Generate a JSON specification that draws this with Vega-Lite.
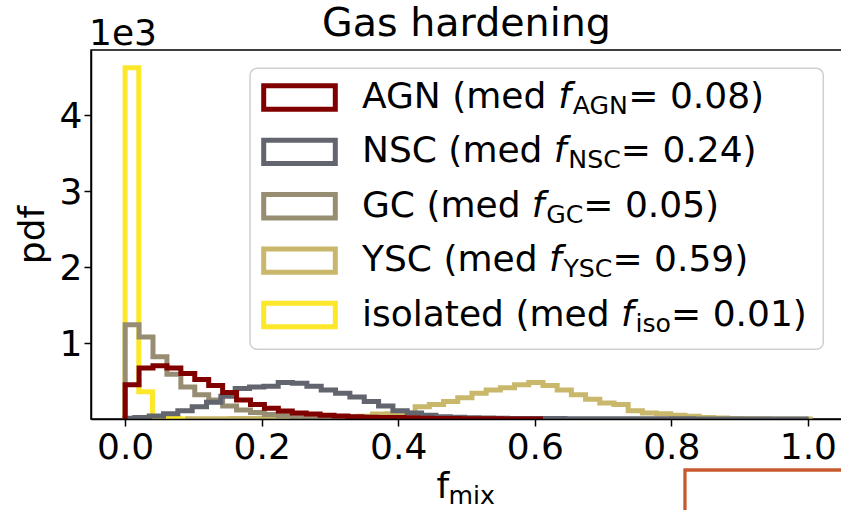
{
  "$schema": "https://vega.github.io/schema/vega-lite/v6.json",
  "width": 751,
  "height": 369,
  "autosize": {"type": "none"},
  "padding": {"left": 91, "top": 50, "right": 0, "bottom": 91},
  "background": "#ffffff",
  "config": {
    "font": "DejaVu Sans",
    "view": {"stroke": "#000000", "strokeWidth": 1.5},
    "axis": {"grid": false, "domainColor": "#000000", "domainWidth": 1.5, "tickColor": "#000000", "tickWidth": 1.5, "tickSize": 7, "labelFont": "DejaVu Sans", "labelFontSize": 36, "labelColor": "#000000", "titleFont": "DejaVu Sans", "titleFontSize": 36, "titleFontWeight": "normal", "titleColor": "#000000"},
    "text": {"font": "DejaVu Sans", "color": "#000000"}
  },
  "title": {"text": "Gas hardening", "font": "DejaVu Sans", "fontSize": 39.6, "fontWeight": "normal", "color": "#000000", "anchor": "middle", "frame": "group", "baseline": "alphabetic", "offset": -60},
  "datasets": {
    "hist": [
      {"pop":"iso","f_mix":0,"pdf":0},{"pop":"iso","f_mix":0.02,"pdf":4.62},{"pop":"iso","f_mix":0.04,"pdf":0.36},{"pop":"iso","f_mix":0.06,"pdf":0.015},{"pop":"iso","f_mix":0.08,"pdf":0.005},{"pop":"iso","f_mix":0.1,"pdf":0},
      {"pop":"GC","f_mix":0,"pdf":0},{"pop":"GC","f_mix":0.0204,"pdf":1.24},{"pop":"GC","f_mix":0.0408,"pdf":1.08},{"pop":"GC","f_mix":0.0612,"pdf":0.82},{"pop":"GC","f_mix":0.0816,"pdf":0.59},{"pop":"GC","f_mix":0.102,"pdf":0.42},{"pop":"GC","f_mix":0.1224,"pdf":0.32},{"pop":"GC","f_mix":0.1428,"pdf":0.25},{"pop":"GC","f_mix":0.1632,"pdf":0.17},{"pop":"GC","f_mix":0.1836,"pdf":0.12},{"pop":"GC","f_mix":0.204,"pdf":0.085},{"pop":"GC","f_mix":0.2244,"pdf":0.06},{"pop":"GC","f_mix":0.2448,"pdf":0.045},{"pop":"GC","f_mix":0.2652,"pdf":0.035},{"pop":"GC","f_mix":0.2856,"pdf":0.027},{"pop":"GC","f_mix":0.306,"pdf":0.02},{"pop":"GC","f_mix":0.3264,"pdf":0.016},{"pop":"GC","f_mix":0.3468,"pdf":0.012},{"pop":"GC","f_mix":0.3672,"pdf":0.009},{"pop":"GC","f_mix":0.3876,"pdf":0.007},{"pop":"GC","f_mix":0.408,"pdf":0.005},{"pop":"GC","f_mix":0.4284,"pdf":0.004},{"pop":"GC","f_mix":0.4488,"pdf":0.003},{"pop":"GC","f_mix":0.4692,"pdf":0.002},{"pop":"GC","f_mix":0.4896,"pdf":0.0015},{"pop":"GC","f_mix":0.51,"pdf":0.001},{"pop":"GC","f_mix":0.5304,"pdf":0.001},{"pop":"GC","f_mix":0.5508,"pdf":0.0005},{"pop":"GC","f_mix":0.5712,"pdf":0},
      {"pop":"AGN","f_mix":0,"pdf":0},{"pop":"AGN","f_mix":0.0204,"pdf":0.45},{"pop":"AGN","f_mix":0.0408,"pdf":0.67},{"pop":"AGN","f_mix":0.0612,"pdf":0.7},{"pop":"AGN","f_mix":0.0816,"pdf":0.67},{"pop":"AGN","f_mix":0.102,"pdf":0.6},{"pop":"AGN","f_mix":0.1224,"pdf":0.52},{"pop":"AGN","f_mix":0.1428,"pdf":0.44},{"pop":"AGN","f_mix":0.1632,"pdf":0.35},{"pop":"AGN","f_mix":0.1836,"pdf":0.25},{"pop":"AGN","f_mix":0.204,"pdf":0.19},{"pop":"AGN","f_mix":0.2244,"pdf":0.14},{"pop":"AGN","f_mix":0.2448,"pdf":0.105},{"pop":"AGN","f_mix":0.2652,"pdf":0.08},{"pop":"AGN","f_mix":0.2856,"pdf":0.065},{"pop":"AGN","f_mix":0.306,"pdf":0.05},{"pop":"AGN","f_mix":0.3264,"pdf":0.038},{"pop":"AGN","f_mix":0.3468,"pdf":0.03},{"pop":"AGN","f_mix":0.3672,"pdf":0.024},{"pop":"AGN","f_mix":0.3876,"pdf":0.02},{"pop":"AGN","f_mix":0.408,"pdf":0.02},{"pop":"AGN","f_mix":0.4284,"pdf":0.015},{"pop":"AGN","f_mix":0.4488,"pdf":0.01},{"pop":"AGN","f_mix":0.4692,"pdf":0.007},{"pop":"AGN","f_mix":0.4896,"pdf":0.005},{"pop":"AGN","f_mix":0.51,"pdf":0.004},{"pop":"AGN","f_mix":0.5304,"pdf":0.003},{"pop":"AGN","f_mix":0.5508,"pdf":0.002},{"pop":"AGN","f_mix":0.5712,"pdf":0.001},{"pop":"AGN","f_mix":0.5916,"pdf":0.0005},{"pop":"AGN","f_mix":0.612,"pdf":0},
      {"pop":"NSC","f_mix":0,"pdf":0},{"pop":"NSC","f_mix":0.0142,"pdf":0.01},{"pop":"NSC","f_mix":0.0352,"pdf":0.02},{"pop":"NSC","f_mix":0.0562,"pdf":0.04},{"pop":"NSC","f_mix":0.0772,"pdf":0.07},{"pop":"NSC","f_mix":0.0982,"pdf":0.11},{"pop":"NSC","f_mix":0.1192,"pdf":0.16},{"pop":"NSC","f_mix":0.1402,"pdf":0.22},{"pop":"NSC","f_mix":0.1612,"pdf":0.3},{"pop":"NSC","f_mix":0.1822,"pdf":0.4},{"pop":"NSC","f_mix":0.2032,"pdf":0.42},{"pop":"NSC","f_mix":0.2242,"pdf":0.43},{"pop":"NSC","f_mix":0.2452,"pdf":0.48},{"pop":"NSC","f_mix":0.2662,"pdf":0.47},{"pop":"NSC","f_mix":0.2872,"pdf":0.43},{"pop":"NSC","f_mix":0.3082,"pdf":0.38},{"pop":"NSC","f_mix":0.3292,"pdf":0.34},{"pop":"NSC","f_mix":0.3502,"pdf":0.29},{"pop":"NSC","f_mix":0.3712,"pdf":0.23},{"pop":"NSC","f_mix":0.3922,"pdf":0.17},{"pop":"NSC","f_mix":0.4132,"pdf":0.11},{"pop":"NSC","f_mix":0.4342,"pdf":0.08},{"pop":"NSC","f_mix":0.4552,"pdf":0.05},{"pop":"NSC","f_mix":0.4762,"pdf":0.03},{"pop":"NSC","f_mix":0.4972,"pdf":0.022},{"pop":"NSC","f_mix":0.5182,"pdf":0.016},{"pop":"NSC","f_mix":0.5392,"pdf":0.012},{"pop":"NSC","f_mix":0.5602,"pdf":0.009},{"pop":"NSC","f_mix":0.5812,"pdf":0.007},{"pop":"NSC","f_mix":0.6022,"pdf":0.006},{"pop":"NSC","f_mix":0.6232,"pdf":0.005},{"pop":"NSC","f_mix":0.6442,"pdf":0.005},{"pop":"NSC","f_mix":0.6652,"pdf":0.004},{"pop":"NSC","f_mix":0.6862,"pdf":0.004},{"pop":"NSC","f_mix":0.7072,"pdf":0.003},{"pop":"NSC","f_mix":0.7282,"pdf":0.003},{"pop":"NSC","f_mix":0.7492,"pdf":0.003},{"pop":"NSC","f_mix":0.7702,"pdf":0.002},{"pop":"NSC","f_mix":0.7912,"pdf":0.002},{"pop":"NSC","f_mix":0.8122,"pdf":0.002},{"pop":"NSC","f_mix":0.8332,"pdf":0.002},{"pop":"NSC","f_mix":0.8542,"pdf":0.001},{"pop":"NSC","f_mix":0.8752,"pdf":0.001},{"pop":"NSC","f_mix":0.8962,"pdf":0.001},{"pop":"NSC","f_mix":0.9172,"pdf":0.001},{"pop":"NSC","f_mix":0.9382,"pdf":0.001},{"pop":"NSC","f_mix":0.9592,"pdf":0.001},{"pop":"NSC","f_mix":0.9802,"pdf":0.001},{"pop":"NSC","f_mix":1.0012,"pdf":0.001},
      {"pop":"YSC","f_mix":0.092,"pdf":0},{"pop":"YSC","f_mix":0.1128,"pdf":0.002},{"pop":"YSC","f_mix":0.1336,"pdf":0.003},{"pop":"YSC","f_mix":0.1544,"pdf":0.004},{"pop":"YSC","f_mix":0.1752,"pdf":0.006},{"pop":"YSC","f_mix":0.196,"pdf":0.008},{"pop":"YSC","f_mix":0.2168,"pdf":0.01},{"pop":"YSC","f_mix":0.2376,"pdf":0.012},{"pop":"YSC","f_mix":0.2584,"pdf":0.015},{"pop":"YSC","f_mix":0.2792,"pdf":0.018},{"pop":"YSC","f_mix":0.3,"pdf":0.022},{"pop":"YSC","f_mix":0.3208,"pdf":0.026},{"pop":"YSC","f_mix":0.3416,"pdf":0.03},{"pop":"YSC","f_mix":0.3624,"pdf":0.035},{"pop":"YSC","f_mix":0.3832,"pdf":0.065},{"pop":"YSC","f_mix":0.404,"pdf":0.07},{"pop":"YSC","f_mix":0.4248,"pdf":0.08},{"pop":"YSC","f_mix":0.4456,"pdf":0.16},{"pop":"YSC","f_mix":0.4664,"pdf":0.19},{"pop":"YSC","f_mix":0.4872,"pdf":0.23},{"pop":"YSC","f_mix":0.508,"pdf":0.28},{"pop":"YSC","f_mix":0.5288,"pdf":0.34},{"pop":"YSC","f_mix":0.5496,"pdf":0.38},{"pop":"YSC","f_mix":0.5704,"pdf":0.41},{"pop":"YSC","f_mix":0.5912,"pdf":0.45},{"pop":"YSC","f_mix":0.612,"pdf":0.48},{"pop":"YSC","f_mix":0.6328,"pdf":0.44},{"pop":"YSC","f_mix":0.6536,"pdf":0.38},{"pop":"YSC","f_mix":0.6744,"pdf":0.32},{"pop":"YSC","f_mix":0.6952,"pdf":0.26},{"pop":"YSC","f_mix":0.716,"pdf":0.21},{"pop":"YSC","f_mix":0.7368,"pdf":0.19},{"pop":"YSC","f_mix":0.7576,"pdf":0.11},{"pop":"YSC","f_mix":0.7784,"pdf":0.08},{"pop":"YSC","f_mix":0.7992,"pdf":0.07},{"pop":"YSC","f_mix":0.82,"pdf":0.05},{"pop":"YSC","f_mix":0.8408,"pdf":0.035},{"pop":"YSC","f_mix":0.8616,"pdf":0.02},{"pop":"YSC","f_mix":0.8824,"pdf":0.012},{"pop":"YSC","f_mix":0.9032,"pdf":0.007},{"pop":"YSC","f_mix":0.924,"pdf":0.004},{"pop":"YSC","f_mix":0.9448,"pdf":0.002},{"pop":"YSC","f_mix":0.9656,"pdf":0.001},{"pop":"YSC","f_mix":0.9864,"pdf":0.001},{"pop":"YSC","f_mix":1.0072,"pdf":0.0005}
    ],
    "neighbour": [{"f_mix": 0.82, "pdf": -1.3}, {"f_mix": 1.07, "pdf": -0.671}],
    "legend": [
      {"pop":"AGN","lead":"AGN (med ","sub":"AGN","tail":"= 0.08)"},
      {"pop":"NSC","lead":"NSC (med ","sub":"NSC","tail":"= 0.24)"},
      {"pop":"GC","lead":"GC (med ","sub":"GC","tail":"= 0.05)"},
      {"pop":"YSC","lead":"YSC (med ","sub":"YSC","tail":"= 0.59)"},
      {"pop":"iso","lead":"isolated (med ","sub":"iso","tail":"= 0.01)"}
    ]
  },
  "layer": [
    {
      "layer": [
        {
          "data": {"name": "hist"},
          "encoding": {
            "x": {"field": "f_mix", "type": "quantitative", "scale": {"domain": [-0.05, 1.05], "nice": false, "zero": false},
                  "axis": {"orient": "bottom", "values": [0, 0.2, 0.4, 0.6, 0.8, 1.0], "format": ".1f", "labelBaseline": "alphabetic", "labelPadding": 32, "labelFlush": false, "labelOverlap": false, "title": "f", "titleAlign": "left", "titleAnchor": "start", "titleX": 345, "titleY": 78, "titleBaseline": "alphabetic", "zindex": 1}},
            "y": {"field": "pdf", "type": "quantitative", "scale": {"domain": [0, 4.855], "nice": false, "zero": false},
                  "axis": {"orient": "left", "values": [1, 2, 3, 4], "format": "d", "labelBaseline": "alphabetic", "labelOffset": 13, "labelPadding": 2, "title": "pdf", "titleAngle": 270, "titleX": -48, "titleY": 184.5, "titleAlign": "center", "titleBaseline": "alphabetic", "zindex": 1}},
            "color": {"field": "pop", "type": "nominal", "scale": {"domain": ["AGN", "NSC", "GC", "YSC", "iso"], "range": ["#800000", "#62646e", "#968d72", "#c9b86b", "#fde72b"]}, "legend": null}
          },
          "layer": [
            {"transform": [{"filter": "datum.pop === 'iso'"}], "mark": {"type": "line", "interpolate": "step-before", "strokeWidth": 5, "clip": true, "strokeJoin": "miter"}},
            {"transform": [{"filter": "datum.pop === 'YSC'"}], "mark": {"type": "line", "interpolate": "step-before", "strokeWidth": 5, "clip": true, "strokeJoin": "miter"}},
            {"transform": [{"filter": "datum.pop === 'GC'"}], "mark": {"type": "line", "interpolate": "step-before", "strokeWidth": 5, "clip": true, "strokeJoin": "miter"}},
            {"transform": [{"filter": "datum.pop === 'NSC'"}], "mark": {"type": "line", "interpolate": "step-before", "strokeWidth": 5, "clip": true, "strokeJoin": "miter"}},
            {"transform": [{"filter": "datum.pop === 'AGN'"}], "mark": {"type": "line", "interpolate": "step-before", "strokeWidth": 5, "clip": true, "strokeJoin": "miter"}}
          ]
        },
        {
          "data": {"name": "neighbour"},
          "mark": {"type": "line", "interpolate": "step-before", "strokeWidth": 3.3, "clip": false, "color": "#c65a2e"},
          "encoding": {
            "x": {"field": "f_mix", "type": "quantitative", "scale": {"domain": [-0.05, 1.05], "nice": false, "zero": false}},
            "y": {"field": "pdf", "type": "quantitative", "scale": {"domain": [0, 4.855], "nice": false, "zero": false}}
          }
        },
        {
          "data": {"values": [{}]},
          "mark": {"type": "rect", "fill": "#ffffff", "fillOpacity": 0.8, "stroke": "#cfcfcf", "strokeWidth": 1.5, "cornerRadius": 7},
          "encoding": {
            "x": {"datum": 0.1829, "type": "quantitative", "scale": {"domain": [-0.05, 1.05], "nice": false, "zero": false}},
            "x2": {"datum": 1.0226},
            "y": {"datum": 4.614, "type": "quantitative", "scale": {"domain": [0, 4.855], "nice": false, "zero": false}},
            "y2": {"datum": 0.917}
          }
        },
        {
          "data": {"values": [{}]},
          "mark": {"type": "text", "text": "1e3", "fontSize": 36, "align": "left", "baseline": "alphabetic", "dx": -2, "dy": -5},
          "encoding": {
            "x": {"datum": -0.05, "type": "quantitative", "scale": {"domain": [-0.05, 1.05], "nice": false, "zero": false}},
            "y": {"datum": 4.855, "type": "quantitative", "scale": {"domain": [0, 4.855], "nice": false, "zero": false}}
          }
        },
        {
          "data": {"values": [{}]},
          "mark": {"type": "text", "text": "mix", "fontSize": 25.2, "align": "left", "baseline": "alphabetic", "dy": 85},
          "encoding": {
            "x": {"datum": 0.4736, "type": "quantitative", "scale": {"domain": [-0.05, 1.05], "nice": false, "zero": false}},
            "y": {"datum": 0, "type": "quantitative", "scale": {"domain": [0, 4.855], "nice": false, "zero": false}}
          }
        }
      ]
    },
    {
      "data": {"name": "legend"},
      "encoding": {
        "y": {"field": "pop", "type": "nominal", "scale": {"type": "point", "domain": ["AGN", "NSC", "GC", "YSC", "iso"], "range": [47.5, 265], "padding": 0}, "axis": null},
        "x": {"datum": 0.3469, "type": "quantitative", "scale": {"domain": [-0.05, 1.05], "nice": false, "zero": false}}
      },
      "layer": [
        {
          "mark": {"type": "point", "shape": "M-1,-0.325H1V0.325H-1Z", "size": 5127, "filled": false, "strokeWidth": 5, "opacity": 1, "strokeJoin": "miter"},
          "encoding": {
            "x": {"datum": 0.2554, "type": "quantitative", "scale": {"domain": [-0.05, 1.05], "nice": false, "zero": false}},
            "color": {"field": "pop", "type": "nominal", "scale": {"domain": ["AGN", "NSC", "GC", "YSC", "iso"], "range": ["#800000", "#62646e", "#968d72", "#c9b86b", "#fde72b"]}, "legend": null}
          }
        },
        {"mark": {"type": "text", "align": "left", "baseline": "alphabetic", "fontSize": 36, "dy": 10.5}, "encoding": {"text": {"field": "lead", "type": "nominal"}}},
        {"transform": [{"filter": "datum.pop === 'AGN'"}], "mark": {"type": "text", "text": "f", "align": "left", "baseline": "alphabetic", "fontSize": 36, "fontStyle": "italic", "dx": 196.3, "dy": 10.5}},
        {"transform": [{"filter": "datum.pop === 'AGN'"}], "mark": {"type": "text", "align": "left", "baseline": "alphabetic", "fontSize": 25.2, "dx": 210.8, "dy": 16.5}, "encoding": {"text": {"field": "sub", "type": "nominal"}}},
        {"transform": [{"filter": "datum.pop === 'AGN'"}], "mark": {"type": "text", "align": "left", "baseline": "alphabetic", "fontSize": 36, "dx": 266.3, "dy": 10.5}, "encoding": {"text": {"field": "tail", "type": "nominal"}}},
        {"transform": [{"filter": "datum.pop === 'NSC'"}], "mark": {"type": "text", "text": "f", "align": "left", "baseline": "alphabetic", "fontSize": 36, "fontStyle": "italic", "dx": 191.9, "dy": 10.5}},
        {"transform": [{"filter": "datum.pop === 'NSC'"}], "mark": {"type": "text", "align": "left", "baseline": "alphabetic", "fontSize": 25.2, "dx": 206.4, "dy": 16.5}, "encoding": {"text": {"field": "sub", "type": "nominal"}}},
        {"transform": [{"filter": "datum.pop === 'NSC'"}], "mark": {"type": "text", "align": "left", "baseline": "alphabetic", "fontSize": 36, "dx": 258.8, "dy": 10.5}, "encoding": {"text": {"field": "tail", "type": "nominal"}}},
        {"transform": [{"filter": "datum.pop === 'GC'"}], "mark": {"type": "text", "text": "f", "align": "left", "baseline": "alphabetic", "fontSize": 36, "fontStyle": "italic", "dx": 169.8, "dy": 10.5}},
        {"transform": [{"filter": "datum.pop === 'GC'"}], "mark": {"type": "text", "align": "left", "baseline": "alphabetic", "fontSize": 25.2, "dx": 184.3, "dy": 16.5}, "encoding": {"text": {"field": "sub", "type": "nominal"}}},
        {"transform": [{"filter": "datum.pop === 'GC'"}], "mark": {"type": "text", "align": "left", "baseline": "alphabetic", "fontSize": 36, "dx": 221.3, "dy": 10.5}, "encoding": {"text": {"field": "tail", "type": "nominal"}}},
        {"transform": [{"filter": "datum.pop === 'YSC'"}], "mark": {"type": "text", "text": "f", "align": "left", "baseline": "alphabetic", "fontSize": 36, "fontStyle": "italic", "dx": 187.0, "dy": 10.5}},
        {"transform": [{"filter": "datum.pop === 'YSC'"}], "mark": {"type": "text", "align": "left", "baseline": "alphabetic", "fontSize": 25.2, "dx": 201.5, "dy": 16.5}, "encoding": {"text": {"field": "sub", "type": "nominal"}}},
        {"transform": [{"filter": "datum.pop === 'YSC'"}], "mark": {"type": "text", "align": "left", "baseline": "alphabetic", "fontSize": 36, "dx": 250.5, "dy": 10.5}, "encoding": {"text": {"field": "tail", "type": "nominal"}}},
        {"transform": [{"filter": "datum.pop === 'iso'"}], "mark": {"type": "text", "text": "f", "align": "left", "baseline": "alphabetic", "fontSize": 36, "fontStyle": "italic", "dx": 259.0, "dy": 10.5}},
        {"transform": [{"filter": "datum.pop === 'iso'"}], "mark": {"type": "text", "align": "left", "baseline": "alphabetic", "fontSize": 25.2, "dx": 273.5, "dy": 16.5}, "encoding": {"text": {"field": "sub", "type": "nominal"}}},
        {"transform": [{"filter": "datum.pop === 'iso'"}], "mark": {"type": "text", "align": "left", "baseline": "alphabetic", "fontSize": 36, "dx": 309.1, "dy": 10.5}, "encoding": {"text": {"field": "tail", "type": "nominal"}}}
      ]
    }
  ],
  "resolve": {"scale": {"y": "independent"}}
}
